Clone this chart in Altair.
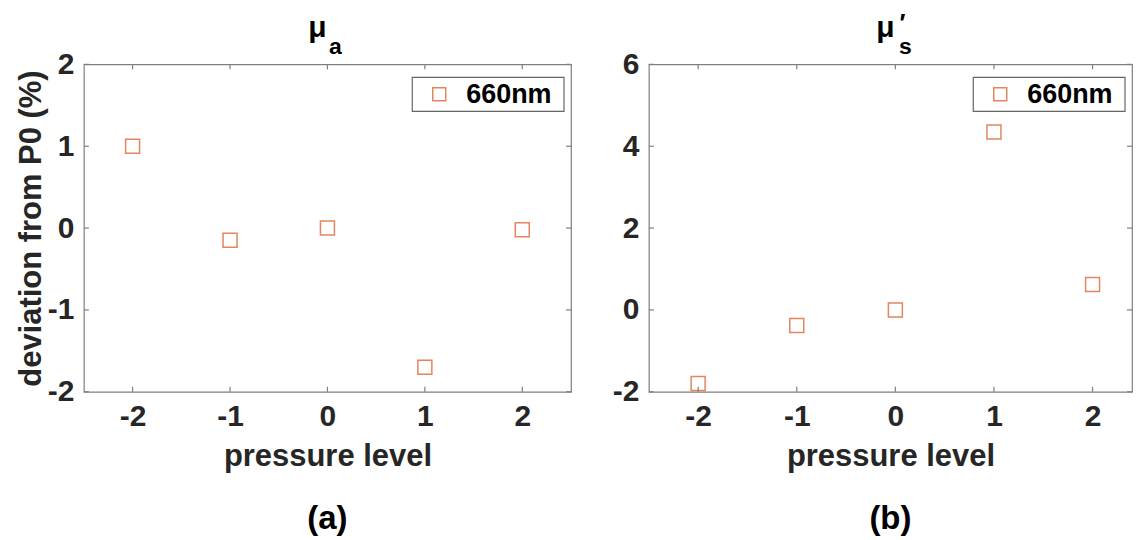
import altair as alt
import pandas as pd

# ---- data ----
pressure_level = [-2, -1, 0, 1, 2]
mu_a_dev = [1.0, -0.15, 0.0, -1.7, -0.02]
mu_s_dev = [-1.8, -0.38, 0.0, 4.35, 0.62]
x_ticks = [-2, -1, 0, 1, 2]
y_ticks_a = [-2, -1, 0, 1, 2]
y_ticks_b = [-2, 0, 2, 4, 6]
series_name = ["660nm"]
panel_tags = ["(a)", "(b)"]
title_main = ["μ", "μ"]
title_sub = ["a", "s"]
title_prime = ["", "′"]
x_title = "pressure level"
y_title = "deviation from P0 (%)"

FONT = "Liberation Sans"
ORANGE = "#D95319"
FRAME = "#7f7f7f"
TXT = "#262626"
H = 328


def make_panel(values, ydomain, yticks, xdomain, width, ytitle, idx, toff):
    df = pd.DataFrame({"level": pressure_level, "dev": values})
    xenc = alt.X(
        "level:Q",
        scale=alt.Scale(domain=xdomain, nice=False, zero=False),
        axis=alt.Axis(values=x_ticks, title=x_title, labelExpr="datum.value + ''",
                      labelPadding=10, titlePadding=10),
    )
    yaxis = dict(values=yticks, labelExpr="datum.value + ''", labelPadding=10)
    if ytitle:
        yaxis["title"] = ytitle
        yaxis["titlePadding"] = 0
        yaxis["titleFontSize"] = 31
    else:
        yaxis["title"] = None
    yenc = alt.Y("dev:Q", scale=alt.Scale(domain=ydomain, nice=False, zero=False),
                 axis=alt.Axis(**yaxis))

    pts = alt.Chart(df).mark_point(shape="square", filled=False, size=196,
                                   strokeWidth=1.5, color=ORANGE).encode(x=xenc, y=yenc)

    xt = pd.DataFrame({"level": x_ticks})
    yt = pd.DataFrame({"dev": yticks})
    tick_style = dict(color=FRAME, strokeWidth=1.2)
    xt_top = alt.Chart(xt).mark_rule(**tick_style).encode(x=xenc, y=alt.value(0), y2=alt.value(5))
    xt_bot = alt.Chart(xt).mark_rule(**tick_style).encode(x=xenc, y=alt.value(H - 5), y2=alt.value(H))
    yt_l = alt.Chart(yt).mark_rule(**tick_style).encode(y=yenc, x=alt.value(0), x2=alt.value(5))
    yt_r = alt.Chart(yt).mark_rule(**tick_style).encode(y=yenc, x=alt.value(width - 5), x2=alt.value(width))

    # title mu with subscript
    cx = width / 2
    t1 = alt.Chart(pd.DataFrame({"t": [title_main[idx]]})).mark_text(
        font=FONT, fontSize=30, fontWeight="bold", color="black", align="center", baseline="alphabetic"
    ).encode(text="t:N", x=alt.value(cx + toff[0]), y=alt.value(-27))
    t2 = alt.Chart(pd.DataFrame({"t": [title_sub[idx]]})).mark_text(
        font=FONT, fontSize=23, fontWeight="bold", color="black", align="center", baseline="alphabetic"
    ).encode(text="t:N", x=alt.value(cx + toff[1]), y=alt.value(-10))
    layers = [t1, t2]
    if title_prime[idx]:
        t3 = alt.Chart(pd.DataFrame({"t": [title_prime[idx]]})).mark_text(
            font=FONT, fontSize=25, fontWeight="bold", color="black", align="center", baseline="alphabetic"
        ).encode(text="t:N", x=alt.value(cx + toff[2]), y=alt.value(-32))
        layers.append(t3)

    # legend box
    bx1 = width - 7
    bx0 = bx1 - 152
    box = alt.Chart(pd.DataFrame({"s": series_name})).mark_rect(
        fill="white", stroke="#666666", strokeWidth=1.2
    ).encode(x=alt.value(bx0), x2=alt.value(bx1), y=alt.value(13), y2=alt.value(47))
    sym = alt.Chart(pd.DataFrame({"s": series_name})).mark_point(
        shape="square", filled=False, size=169, strokeWidth=1.5, color=ORANGE
    ).encode(x=alt.value(bx0 + 27), y=alt.value(30))
    lab = alt.Chart(pd.DataFrame({"s": series_name})).mark_text(
        font=FONT, fontSize=27, fontWeight="bold", color="black", align="left", baseline="middle"
    ).encode(text="s:N", x=alt.value(bx0 + 54), y=alt.value(31))

    tag = alt.Chart(pd.DataFrame({"t": [panel_tags[idx]]})).mark_text(
        font=FONT, fontSize=33, fontWeight="bold", color="black", align="center", baseline="alphabetic"
    ).encode(text="t:N", x=alt.value(cx), y=alt.value(465))

    return alt.layer(xt_top, xt_bot, yt_l, yt_r, pts, *layers, box, sym, lab, tag).properties(
        width=width, height=H
    )


left = make_panel(mu_a_dev, [-2, 2], y_ticks_a, [-2.5, 2.5], 488, y_title, 0, (-10, 8, 0))
right = make_panel(mu_s_dev, [-2, 6], y_ticks_b, [-2.5, 2.4], 484, None, 1, (-5, 15, 12))

chart = alt.hconcat(left, right, spacing=78, bounds="flush").properties(
    padding={"left": 6, "top": 3, "right": 0, "bottom": 0}
).configure_view(
    stroke=FRAME, strokeWidth=1.2
).configure_axis(
    domain=False, ticks=False, grid=False,
    labelFont=FONT, labelFontSize=30, labelFontWeight="bold", labelColor=TXT,
    titleFont=FONT, titleFontSize=31, titleFontWeight="bold", titleColor=TXT,
)

chart.save("out.html", embed_options={"renderer": "svg", "actions": False})
